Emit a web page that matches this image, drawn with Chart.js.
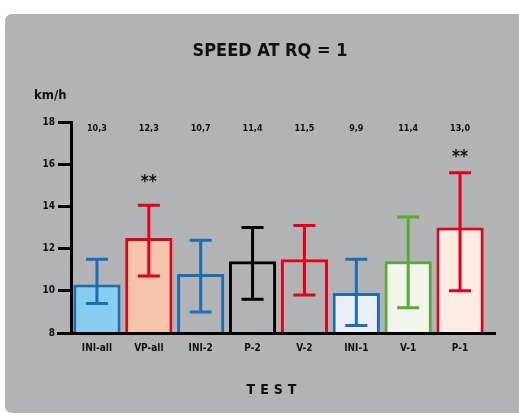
<!DOCTYPE html>
<html>
<head>
<meta charset="utf-8">
<script src="https://cdn.jsdelivr.net/npm/chart.js@4"></script>
<style>
  html, body { margin: 0; padding: 0; background: #fff; }
  #panel { position: absolute; left: 5px; top: 14px; width: 530px; height: 399px; background: #b2b3b5; border-radius: 7px; }
  #wrap { position: absolute; left: 0; top: 0; width: 519px; height: 415px; }
</style>
</head>
<body>
<div id="panel"></div>
<div id="wrap"><canvas id="chart"></canvas></div>
<script>
// データ
const tests = ["INI-all", "VP-all", "INI-2", "P-2", "V-2", "INI-1", "V-1", "P-1"];
const speed = [10.3, 12.5, 10.8, 11.4, 11.5, 9.9, 11.4, 13.0];
const errTop = [11.5, 14.05, 12.4, 13.0, 13.1, 11.5, 13.5, 15.6];
const errBottom = [9.4, 10.7, 9.0, 9.6, 9.8, 8.35, 9.2, 10.0];
const valueLabels = ["10,3", "12,3", "10,7", "11,4", "11,5", "9,9", "11,4", "13,0"];
const stars = ["", "**", "", "", "", "", "", "**"];
const starAt = [null, 15.25, null, null, null, null, null, 16.45];
const yTicks = [8, 10, 12, 14, 16, 18];

const borderColors = ["#1b6db4", "#e2001a", "#1b6db4", "#000000", "#e2001a", "#1b6db4", "#5aa930", "#e2001a"];
const fillColors = ["#86cdf0", "#f6c4aa", "rgba(0,0,0,0)", "rgba(0,0,0,0)", "rgba(0,0,0,0)", "#e9eef7", "#f2f6ec", "#fdebe4"];

const FONT = "'DejaVu Sans Condensed', 'Liberation Sans Narrow', 'DejaVu Sans', sans-serif";

// エラーバーと文字
const extras = {
  id: "extras",
  afterDatasetsDraw(chart) {
    const ctx = chart.ctx;
    const x = chart.scales.x, y = chart.scales.y;
    const area = chart.chartArea;
    ctx.save();
    // x軸
    ctx.strokeStyle = "#000";
    ctx.lineWidth = 3;
    ctx.beginPath();
    ctx.moveTo(area.left - 14, area.bottom + 0.5);
    ctx.lineTo(496, area.bottom + 0.5);
    ctx.stroke();

    speed.forEach((v, i) => {
      const cx = x.getPixelForValue(i);
      const top = y.getPixelForValue(errTop[i]);
      const bot = y.getPixelForValue(errBottom[i]);
      ctx.strokeStyle = borderColors[i];
      ctx.lineWidth = 3;
      ctx.beginPath();
      ctx.moveTo(cx, top); ctx.lineTo(cx, bot);
      ctx.moveTo(cx - 11, top); ctx.lineTo(cx + 11, top);
      ctx.moveTo(cx - 11, bot); ctx.lineTo(cx + 11, bot);
      ctx.stroke();

      ctx.fillStyle = "#111";
      ctx.textAlign = "center";
      ctx.textBaseline = "middle";
      ctx.font = "bold 9px " + FONT;
      ctx.fillText(valueLabels[i], cx, area.top + 7);
      if (stars[i]) {
        ctx.font = "bold 17px " + FONT;
        ctx.fillText(stars[i], cx, y.getPixelForValue(starAt[i]) + 3);
      }
    });

    ctx.fillStyle = "#111";
    ctx.textAlign = "center";
    ctx.textBaseline = "middle";
    ctx.font = "bold 18px " + FONT;
    ctx.fillText("SPEED AT RQ = 1", 270, 51);
    ctx.textAlign = "left";
    ctx.font = "bold 13px " + FONT;
    ctx.fillText("km/h", 34, 96);
    ctx.textAlign = "center";
    ctx.font = "bold 14px " + FONT;
    ctx.letterSpacing = "5px";
    ctx.fillText("TEST", 274, 390);
    ctx.restore();
  }
};

new Chart(document.getElementById("chart"), {
  type: "bar",
  data: {
    labels: tests,
    datasets: [{
      data: speed,
      backgroundColor: fillColors,
      borderColor: borderColors,
      borderWidth: 3,
      borderSkipped: false,
      barPercentage: 0.91,
      categoryPercentage: 1
    }]
  },
  options: {
    responsive: true,
    maintainAspectRatio: false,
    animation: false,
    layout: { padding: { left: 0, right: 33, top: 122, bottom: 0 } },
    plugins: { legend: { display: false }, tooltip: { enabled: false } },
    scales: {
      x: {
        border: { display: false },
        grid: { display: false, drawTicks: false },
        ticks: { color: "#111", padding: 9, font: { family: FONT, weight: "bold", size: 10 } },
        afterFit(s) { s.height = 82; }
      },
      y: {
        min: 8, max: 18,
        afterBuildTicks(s) { s.ticks = yTicks.map(v => ({ value: v })); },
        border: { display: true, color: "#000", width: 3 },
        grid: { drawOnChartArea: false, color: "#000", tickLength: 13, lineWidth: 3 },
        ticks: { color: "#111", padding: 3, font: { family: FONT, weight: "bold", size: 10 } },
        afterFit(s) { s.width = 71; }
      }
    }
  },
  plugins: [extras]
});
</script>
</body>
</html>
